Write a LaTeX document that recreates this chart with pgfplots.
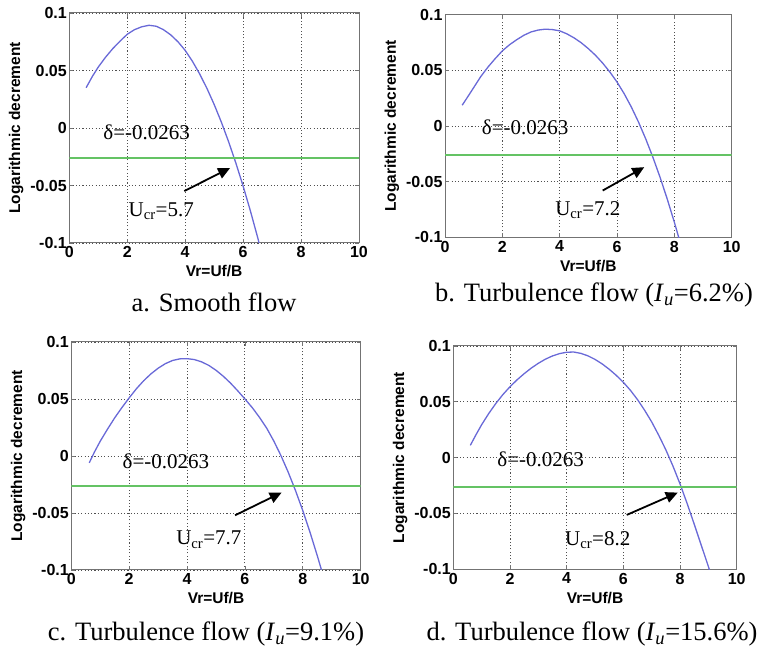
\documentclass[border=0pt]{standalone}
\usepackage{pgfplots}
\pgfplotsset{compat=1.18}
\usetikzlibrary{arrows.meta}
\usepackage{fontspec}
\setmainfont{Liberation Serif}
\newfontfamily\arialfont{Liberation Sans}

\definecolor{curveblue}{RGB}{105,105,215}
\definecolor{threshgreen}{RGB}{100,195,100}
\definecolor{framegray}{RGB}{115,115,115}
\definecolor{gridgray}{RGB}{80,80,80}

\newcommand{\capfont}{\fontsize{26.5}{30}\selectfont}
\newcommand{\notefont}{\fontsize{21}{24}\selectfont}

\pgfplotsset{
  panel/.style={
    scale only axis,
    anchor=south west,
    xmin=0, xmax=10, ymin=-0.1, ymax=0.1,
    xtick={0,2,4,6,8,10},
    xticklabels={0,2,4,6,8,10},
    ytick={-0.1,-0.05,0,0.05,0.1},
    yticklabels={-0.1,-0.05,0,0.05,0.1},
    grid=major,
    major grid style={dash pattern=on 1.1pt off 2.2pt, line width=0.9pt, color=gridgray},
    axis line style={line width=1pt, color=framegray},
    tick style={color=framegray, line width=0.8pt},
    tick align=inside,
    major tick length=4pt,
    tick label style={font=\arialfont\bfseries\fontsize{16}{18}\selectfont},
    yticklabel style={xshift=1pt},
    label style={font=\arialfont\bfseries\fontsize{15.5}{18}\selectfont},
    xlabel style={yshift=-1pt},
    xlabel={Vr=Uf/B},
    ylabel={Logarithmic decrement},
  },
  curve/.style={color=curveblue, line width=1.3pt},
  thresh/.style={color=threshgreen, line width=1.7pt},
}
\tikzset{
  note/.style={anchor=west, inner sep=0pt, font=\notefont},
  note arrow/.style={-{Triangle[length=12pt,width=11pt]}, line width=1.8pt, black},
}

\begin{document}
\begin{tikzpicture}
\useasboundingbox (0,0) rectangle (764pt,651pt);

% a. smooth flow
\begin{axis}[panel, at={(69.3pt,408pt)}, width=289.7pt, height=230pt]
\addplot[curve] coordinates {
(0.58,0.035) (0.8,0.045) (1.0,0.053) (1.25,0.0615) (1.5,0.069) (1.75,0.0755)
(2.0,0.0815) (2.25,0.0855) (2.5,0.088) (2.75,0.0893) (3.0,0.0885) (3.25,0.0855)
(3.5,0.081) (3.75,0.075) (4.0,0.0675) (4.25,0.058) (4.5,0.047) (4.75,0.0345)
(5.0,0.0205) (5.25,0.005) (5.5,-0.012) (5.75,-0.0305) (6.0,-0.0505) (6.25,-0.072)
(6.5,-0.095) (6.75,-0.1195)
};
\addplot[thresh] coordinates {(0,-0.0263) (10,-0.0263)};
\draw[note arrow] (axis cs:3.97,-0.0548) -- (axis cs:5.55,-0.0348);
\node[note] at (axis cs:1.17,-0.0035) {δ=-0.0263};
\node[note] at (axis cs:2.04,-0.072) {U\textsubscript{cr}=5.7};
\end{axis}

% b. Iu = 6.2%
\begin{axis}[panel, at={(445pt,413.7pt)}, width=286.7pt, height=222.6pt]
\addplot[curve] coordinates {
(0.6,0.0187) (0.8,0.0265) (1.0,0.0345) (1.25,0.0445) (1.5,0.053) (1.75,0.0605)
(2.0,0.0675) (2.25,0.073) (2.5,0.0775) (2.75,0.0815) (3.0,0.0845) (3.25,0.0862)
(3.5,0.087) (3.75,0.0866) (4.0,0.0855) (4.25,0.0828) (4.5,0.0792) (4.75,0.0748)
(5.0,0.0695) (5.25,0.0635) (5.5,0.0565) (5.75,0.0485) (6.0,0.0395) (6.25,0.029)
(6.5,0.017) (6.75,0.0035) (7.0,-0.0115) (7.25,-0.028) (7.5,-0.046) (7.75,-0.0655)
(8.0,-0.0865) (8.25,-0.109)
};
\addplot[thresh] coordinates {(0,-0.0263) (10,-0.0263)};
\draw[note arrow] (axis cs:5.5,-0.058) -- (axis cs:6.95,-0.037);
\node[note] at (axis cs:1.28,-0.0013) {δ=-0.0263};
\node[note] at (axis cs:3.84,-0.0758) {U\textsubscript{cr}=7.2};
\end{axis}

% c. Iu = 9.1%
\begin{axis}[panel, at={(71.3pt,81pt)}, width=289.4pt, height=228pt]
\addplot[curve] coordinates {
(0.62,-0.006) (0.8,0.0035) (1.0,0.013) (1.25,0.0235) (1.5,0.0335) (1.75,0.0425)
(2.0,0.051) (2.25,0.059) (2.5,0.066) (2.75,0.072) (3.0,0.077) (3.25,0.081)
(3.5,0.0838) (3.75,0.0852) (4.0,0.0854) (4.25,0.0846) (4.5,0.0826) (4.75,0.0795)
(5.0,0.0752) (5.25,0.070) (5.5,0.064) (5.75,0.0572) (6.0,0.050) (6.25,0.0425)
(6.5,0.034) (6.75,0.0245) (7.0,0.013) (7.25,0.0) (7.5,-0.0145) (7.75,-0.0305)
(8.0,-0.048) (8.25,-0.067) (8.5,-0.0875) (8.75,-0.109)
};
\addplot[thresh] coordinates {(0,-0.0263) (10,-0.0263)};
\draw[note arrow] (axis cs:5.66,-0.052) -- (axis cs:7.27,-0.032);
\node[note] at (axis cs:1.77,-0.0045) {δ=-0.0263};
\node[note] at (axis cs:3.62,-0.0734) {U\textsubscript{cr}=7.7};
\end{axis}

% d. Iu = 15.6%
\begin{axis}[panel, at={(453.3pt,81.7pt)}, width=283.4pt, height=223.3pt]
\addplot[curve] coordinates {
(0.6,0.011) (0.8,0.0205) (1.0,0.0295) (1.25,0.0395) (1.5,0.0485) (1.75,0.0565)
(2.0,0.0635) (2.25,0.0697) (2.5,0.0752) (2.75,0.0802) (3.0,0.0845) (3.25,0.0882)
(3.5,0.0911) (3.75,0.0932) (4.0,0.0944) (4.25,0.0946) (4.5,0.0934) (4.75,0.0912)
(5.0,0.088) (5.25,0.084) (5.5,0.0792) (5.75,0.0737) (6.0,0.0675) (6.25,0.0603)
(6.5,0.052) (6.75,0.0425) (7.0,0.032) (7.25,0.02) (7.5,0.007) (7.75,-0.0075)
(8.0,-0.0235) (8.25,-0.041) (8.5,-0.0595) (8.75,-0.0785) (9.0,-0.0975) (9.25,-0.117)
};
\addplot[thresh] coordinates {(0,-0.0263) (10,-0.0263)};
\draw[note arrow] (axis cs:6.12,-0.0513) -- (axis cs:7.92,-0.0313);
\node[note] at (axis cs:1.55,-0.0015) {δ=-0.0263};
\node[note] at (axis cs:3.94,-0.0737) {U\textsubscript{cr}=8.2};
\end{axis}

% captions
\node[anchor=base, font=\capfont] at (214pt,339pt) {a. Smooth flow};
\node[anchor=base, font=\capfont] at (594pt,349pt) {b. Turbulence flow (\textit{I}\textsubscript{\textit{u}}=6.2\%)};
\node[anchor=base, font=\capfont] at (206pt,10pt) {c. Turbulence flow (\textit{I}\textsubscript{\textit{u}}=9.1\%)};
\node[anchor=base, font=\capfont] at (592pt,10pt) {d. Turbulence flow (\textit{I}\textsubscript{\textit{u}}=15.6\%)};
\end{tikzpicture}
\end{document}
